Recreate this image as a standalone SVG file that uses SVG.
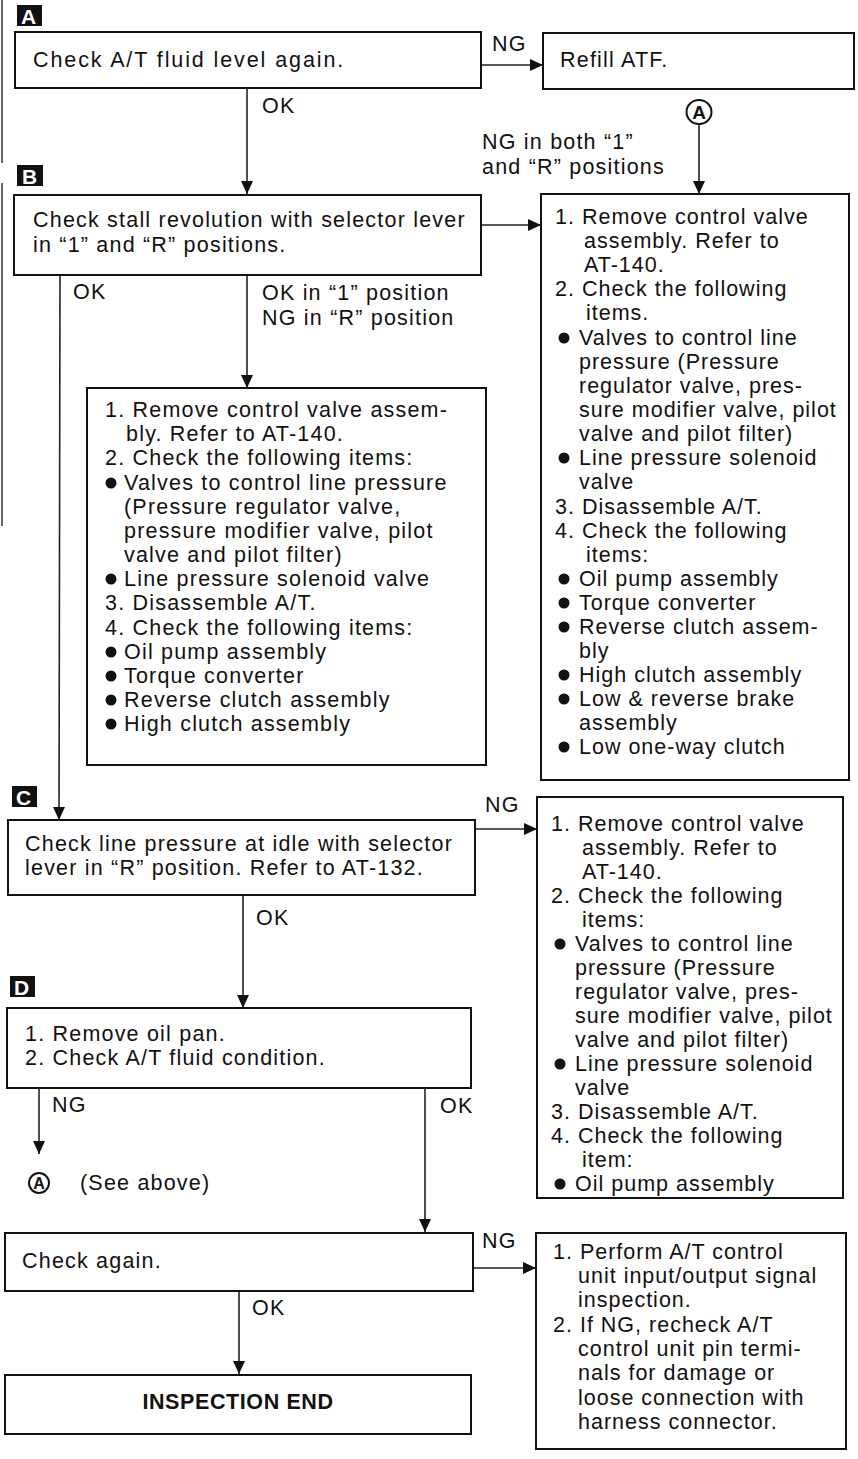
<svg xmlns="http://www.w3.org/2000/svg" width="858" height="1459" viewBox="0 0 858 1459">
  <style>
    .box { fill: #ffffff; stroke: #111111; stroke-width: 2; }
    .t { font-family: "Liberation Sans", Arial, Helvetica, sans-serif; font-size: 21.5px; letter-spacing: 1.2px; fill: #111111; }
    .b { font-weight: bold; letter-spacing: 0.6px; }
    .tag { fill: #111111; }
    .tagt { font-family: "Liberation Sans", Arial, Helvetica, sans-serif; font-size: 21px; font-weight: bold; fill: #ffffff; }
    .wire { fill: none; stroke: #222222; stroke-width: 1.6; }
    .dot { fill: #111111; }
    .ring { fill: #ffffff; stroke: #111111; stroke-width: 2; }
    .ringt { font-family: "Liberation Sans", Arial, Helvetica, sans-serif; font-weight: bold; fill: #111111; text-anchor: middle; }
    .edge { stroke: #333333; stroke-width: 1.5; }
  </style>
  <defs>
    <marker id="arrow" markerWidth="14" markerHeight="12" refX="13" refY="6" orient="auto" markerUnits="userSpaceOnUse">
      <path d="M0,0 L13,6 L0,12 Z" fill="#111111"/>
    </marker>
  </defs>

  <rect width="858" height="1459" fill="#ffffff"/>

  <!-- page edge lines -->
  <line class="edge" x1="2" y1="0" x2="2" y2="163"/>
  <line class="edge" x1="2" y1="183" x2="2" y2="526"/>

  <!-- section tags -->
  <g id="tag-a"><rect class="tag" x="17" y="5" width="25" height="21"/><text class="tagt" x="21" y="24">A</text></g>
  <g id="tag-b"><rect class="tag" x="17" y="165" width="26" height="21"/><text class="tagt" x="22" y="184">B</text></g>
  <g id="tag-c"><rect class="tag" x="12" y="786" width="25" height="21"/><text class="tagt" x="16" y="805">C</text></g>
  <g id="tag-d"><rect class="tag" x="10" y="976" width="25" height="21"/><text class="tagt" x="14" y="995">D</text></g>

  <!-- connectors -->
  <g id="connectors">
    <line class="wire" x1="481" y1="65" x2="543" y2="65" marker-end="url(#arrow)"/>
    <line class="wire" x1="247" y1="88" x2="247" y2="194" marker-end="url(#arrow)"/>
    <line class="wire" x1="699" y1="125" x2="699" y2="194" marker-end="url(#arrow)"/>
    <line class="wire" x1="481" y1="225" x2="541" y2="225" marker-end="url(#arrow)"/>
    <line class="wire" x1="247" y1="275" x2="247" y2="388" marker-end="url(#arrow)"/>
    <line class="wire" x1="60" y1="275" x2="59" y2="820" marker-end="url(#arrow)"/>
    <line class="wire" x1="475" y1="829" x2="537" y2="829" marker-end="url(#arrow)"/>
    <line class="wire" x1="243" y1="895" x2="243" y2="1008" marker-end="url(#arrow)"/>
    <line class="wire" x1="39" y1="1088" x2="39" y2="1154" marker-end="url(#arrow)"/>
    <line class="wire" x1="425" y1="1088" x2="425" y2="1232" marker-end="url(#arrow)"/>
    <line class="wire" x1="473" y1="1268" x2="536" y2="1268" marker-end="url(#arrow)"/>
    <line class="wire" x1="239" y1="1291" x2="239" y2="1374" marker-end="url(#arrow)"/>
  </g>

  <!-- connector labels -->
  <g id="labels" class="t">
    <text x="492" y="51">NG</text>
    <text x="262" y="113">OK</text>
    <text x="482" y="149">NG in both “1”</text>
    <text x="482" y="174">and “R” positions</text>
    <text x="73" y="299">OK</text>
    <text x="262" y="300">OK in “1” position</text>
    <text x="262" y="325">NG in “R” position</text>
    <text x="485" y="812">NG</text>
    <text x="256" y="925">OK</text>
    <text x="52" y="1112">NG</text>
    <text x="440" y="1113">OK</text>
    <text x="482" y="1248">NG</text>
    <text x="252" y="1315">OK</text>
  </g>

  <!-- off-page reference A -->
  <g id="ref-a-top">
    <ellipse class="ring" cx="699" cy="112" rx="12.5" ry="12"/>
    <text class="ringt" x="699" y="119" font-size="19">A</text>
  </g>
  <g id="ref-a-bottom">
    <ellipse class="ring" cx="39" cy="1183" rx="10" ry="10"/>
    <text class="ringt" x="39" y="1189" font-size="16">A</text>
    <text class="t" x="80" y="1190">(See above)</text>
  </g>

  <g id="check-fluid">
    <rect class="box" x="15" y="32" width="466" height="56"/>
    <text class="t" x="33" y="67" style="letter-spacing:1.9px">Check A/T fluid level again.</text>
  </g>

  <g id="refill">
    <rect class="box" x="543" y="33" width="311" height="56"/>
    <text class="t" x="560" y="67">Refill ATF.</text>
  </g>

  <g id="stall-check">
    <rect class="box" x="14" y="195" width="467" height="80"/>
    <text class="t" x="33" y="227">Check stall revolution with selector lever</text>
    <text class="t" x="33" y="252">in “1” and “R” positions.</text>
  </g>

  <g id="repair-both">
    <rect class="box" x="541" y="194" width="308" height="586"/>
    <g class="t" style="letter-spacing:1px">
      <text x="555" y="224">1. Remove control valve</text>
      <text x="584" y="248">assembly. Refer to</text>
      <text x="584" y="272">AT-140.</text>
      <text x="555" y="296">2. Check the following</text>
      <text x="586" y="320">items.</text>
      <text x="579" y="345">Valves to control line</text>
      <text x="579" y="369">pressure (Pressure</text>
      <text x="579" y="393">regulator valve, pres-</text>
      <text x="579" y="417">sure modifier valve, pilot</text>
      <text x="579" y="441">valve and pilot filter)</text>
      <text x="579" y="465">Line pressure solenoid</text>
      <text x="579" y="489">valve</text>
      <text x="555" y="514">3. Disassemble A/T.</text>
      <text x="555" y="538">4. Check the following</text>
      <text x="586" y="562">items:</text>
      <text x="579" y="586">Oil pump assembly</text>
      <text x="579" y="610">Torque converter</text>
      <text x="579" y="634">Reverse clutch assem-</text>
      <text x="579" y="658">bly</text>
      <text x="579" y="682">High clutch assembly</text>
      <text x="579" y="706">Low &amp; reverse brake</text>
      <text x="579" y="730">assembly</text>
      <text x="579" y="754">Low one-way clutch</text>
    </g>
    <circle class="dot" cx="564" cy="338" r="5.5"/>
    <circle class="dot" cx="564" cy="458" r="5.5"/>
    <circle class="dot" cx="564" cy="579" r="5.5"/>
    <circle class="dot" cx="564" cy="603" r="5.5"/>
    <circle class="dot" cx="564" cy="627" r="5.5"/>
    <circle class="dot" cx="564" cy="675" r="5.5"/>
    <circle class="dot" cx="564" cy="699" r="5.5"/>
    <circle class="dot" cx="564" cy="747" r="5.5"/>
  </g>

  <g id="repair-reverse">
    <rect class="box" x="87" y="388" width="399" height="377"/>
    <g class="t">
      <text x="105" y="417">1. Remove control valve assem-</text>
      <text x="126" y="441">bly. Refer to AT-140.</text>
      <text x="105" y="465">2. Check the following items:</text>
      <text x="124" y="490">Valves to control line pressure</text>
      <text x="124" y="514">(Pressure regulator valve,</text>
      <text x="124" y="538">pressure modifier valve, pilot</text>
      <text x="124" y="562">valve and pilot filter)</text>
      <text x="124" y="586">Line pressure solenoid valve</text>
      <text x="105" y="610">3. Disassemble A/T.</text>
      <text x="105" y="635">4. Check the following items:</text>
      <text x="124" y="659">Oil pump assembly</text>
      <text x="124" y="683">Torque converter</text>
      <text x="124" y="707">Reverse clutch assembly</text>
      <text x="124" y="731">High clutch assembly</text>
    </g>
    <circle class="dot" cx="111" cy="483" r="5.5"/>
    <circle class="dot" cx="111" cy="579" r="5.5"/>
    <circle class="dot" cx="111" cy="652" r="5.5"/>
    <circle class="dot" cx="111" cy="676" r="5.5"/>
    <circle class="dot" cx="111" cy="700" r="5.5"/>
    <circle class="dot" cx="111" cy="724" r="5.5"/>
  </g>

  <g id="line-pressure">
    <rect class="box" x="8" y="820" width="467" height="75"/>
    <text class="t" x="25" y="851">Check line pressure at idle with selector</text>
    <text class="t" x="25" y="875">lever in “R” position. Refer to AT-132.</text>
  </g>

  <g id="repair-pressure">
    <rect class="box" x="537" y="797" width="306" height="401"/>
    <g class="t" style="letter-spacing:1px">
      <text x="551" y="831">1. Remove control valve</text>
      <text x="582" y="855">assembly. Refer to</text>
      <text x="582" y="879">AT-140.</text>
      <text x="551" y="903">2. Check the following</text>
      <text x="582" y="927">items:</text>
      <text x="575" y="951">Valves to control line</text>
      <text x="575" y="975">pressure (Pressure</text>
      <text x="575" y="999">regulator valve, pres-</text>
      <text x="575" y="1023">sure modifier valve, pilot</text>
      <text x="575" y="1047">valve and pilot filter)</text>
      <text x="575" y="1071">Line pressure solenoid</text>
      <text x="575" y="1095">valve</text>
      <text x="551" y="1119">3. Disassemble A/T.</text>
      <text x="551" y="1143">4. Check the following</text>
      <text x="582" y="1167">item:</text>
      <text x="575" y="1191">Oil pump assembly</text>
    </g>
    <circle class="dot" cx="560" cy="944" r="5.5"/>
    <circle class="dot" cx="560" cy="1064" r="5.5"/>
    <circle class="dot" cx="560" cy="1184" r="5.5"/>
  </g>

  <g id="fluid-condition">
    <rect class="box" x="7" y="1008" width="464" height="80"/>
    <text class="t" x="25" y="1041">1. Remove oil pan.</text>
    <text class="t" x="25" y="1065">2. Check A/T fluid condition.</text>
  </g>

  <g id="check-again">
    <rect class="box" x="5" y="1233" width="468" height="58"/>
    <text class="t" x="22" y="1268">Check again.</text>
  </g>

  <g id="inspection-end">
    <rect class="box" x="5" y="1375" width="466" height="59"/>
    <text class="t b" x="238" y="1409" text-anchor="middle">INSPECTION END</text>
  </g>

  <g id="control-unit">
    <rect class="box" x="536" y="1233" width="310" height="216"/>
    <g class="t" style="letter-spacing:1px">
      <text x="553" y="1259">1. Perform A/T control</text>
      <text x="578" y="1283">unit input/output signal</text>
      <text x="578" y="1307">inspection.</text>
      <text x="553" y="1332">2. If NG, recheck A/T</text>
      <text x="578" y="1356">control unit pin termi-</text>
      <text x="578" y="1380">nals for damage or</text>
      <text x="578" y="1405">loose connection with</text>
      <text x="578" y="1429">harness connector.</text>
    </g>
  </g>
</svg>
